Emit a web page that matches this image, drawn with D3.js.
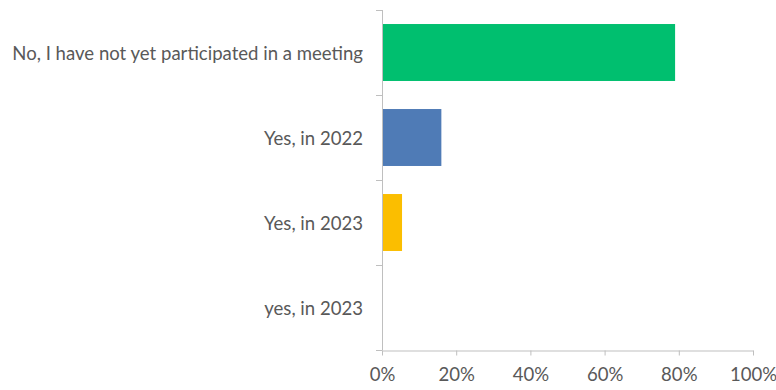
<!DOCTYPE html>
<html>
<head>
<meta charset="utf-8">
<script src="https://cdn.jsdelivr.net/npm/d3@7"></script>
<style>
  html, body { margin: 0; padding: 0; background: #fff; }
  svg { display: block; }
  text { font-family: Lato, "Open Sans", sans-serif; fill: #595959; }
</style>
</head>
<body>
<svg id="chart" width="776" height="390"></svg>
<script>
// Survey answers and their shares (percent of respondents)
const categories = [
  "No, I have not yet participated in a meeting",
  "Yes, in 2022",
  "Yes, in 2023",
  "yes, in 2023"
];
const values = [79, 16, 5.4, 0];
const colors = ["#00bf6f", "#4f7bb6", "#fbbe00", "#a0a0a0"];
const xTicks = [0, 20, 40, 60, 80, 100];

const svg = d3.select("#chart");
const plotLeft = 382, plotRight = 753, plotTop = 10, plotBottom = 350;

const x = d3.scaleLinear().domain([0, 100]).range([plotLeft, plotRight]);
const y = d3.scaleBand().domain(d3.range(categories.length)).range([plotTop, plotBottom]).paddingInner(0.33).paddingOuter(0.165);
const band = d3.scaleBand().domain(d3.range(categories.length)).range([plotTop, plotBottom]);

// Bars
svg.append("g").selectAll("rect")
  .data(values)
  .join("rect")
  .attr("x", x(0))
  .attr("y", (d, i) => y(i))
  .attr("width", d => x(d) - x(0))
  .attr("height", y.bandwidth())
  .attr("fill", (d, i) => colors[i]);

const axisColor = "#bfbfbf";

// Category axis with boundary ticks between bands
const yAxis = svg.append("g");
yAxis.append("line")
  .attr("x1", plotLeft + 0.5).attr("x2", plotLeft + 0.5)
  .attr("y1", plotTop).attr("y2", plotBottom)
  .attr("stroke", axisColor);
yAxis.selectAll("line.tick")
  .data(d3.range(categories.length + 1))
  .join("line")
  .attr("class", "tick")
  .attr("x1", plotLeft - 6).attr("x2", plotLeft + 0.5)
  .attr("y1", i => Math.round(plotTop + i * band.bandwidth()) + 0.5)
  .attr("y2", i => Math.round(plotTop + i * band.bandwidth()) + 0.5)
  .attr("stroke", axisColor);

const labels = yAxis.selectAll("text")
  .data(categories)
  .join("text")
  .attr("x", 363)
  .attr("y", (d, i) => band(i) + band.bandwidth() / 2)
  .attr("text-anchor", "end")
  .attr("dominant-baseline", "central")
  .style("font-size", "15px")
  .text(d => d);

// Fit the longest label to its available width
const longest = d3.max(labels.nodes(), n => n.getComputedTextLength());
const fs = 15 * 351 / longest;
labels.style("font-size", fs + "px");

// Value axis
const xAxis = svg.append("g")
  .attr("transform", `translate(0,${plotBottom + 0.5})`)
  .call(d3.axisBottom(x).tickValues(xTicks).tickSize(5).tickSizeOuter(0).tickFormat(d => d + "%"));
xAxis.select(".domain").attr("stroke", axisColor);
xAxis.selectAll(".tick line").attr("stroke", axisColor);
xAxis.selectAll(".tick text")
  .attr("y", 17)
  .style("font-family", "Lato, 'Open Sans', sans-serif")
  .style("font-size", fs + "px")
  .attr("fill", "#595959");
</script>
</body>
</html>
